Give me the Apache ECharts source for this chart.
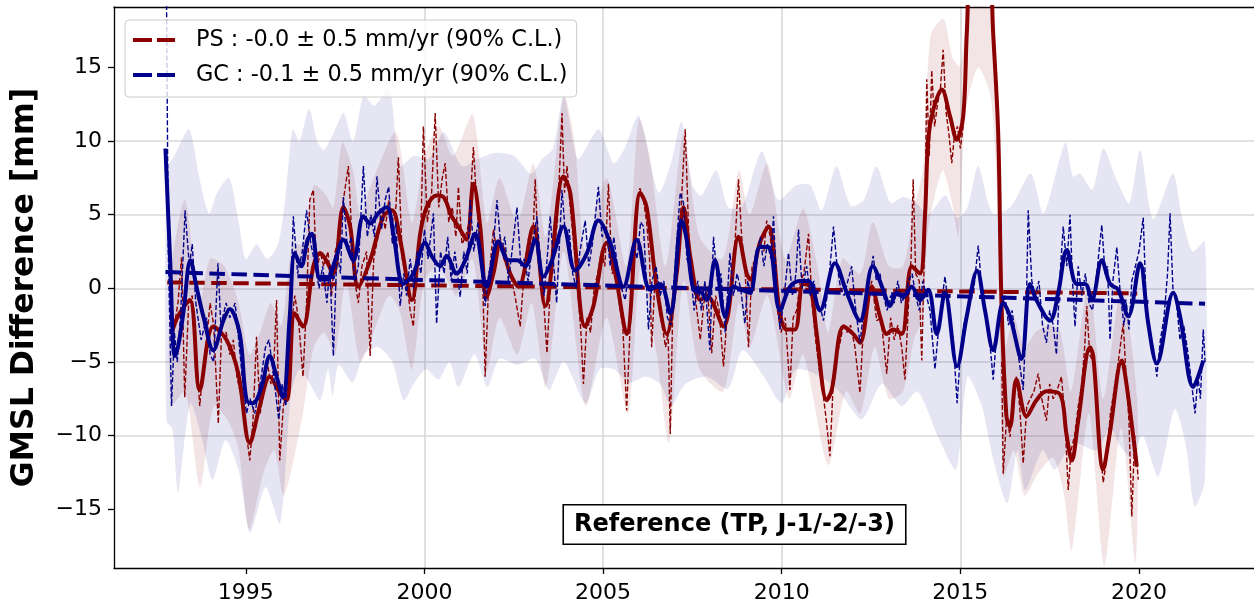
<!DOCTYPE html>
<html>
<head>
<meta charset="utf-8">
<script src="https://cdn.jsdelivr.net/npm/echarts@6/dist/echarts.min.js"></script>
<style>
html,body{margin:0;padding:0;background:#fff;}
#chart{width:1254px;height:610px;}
</style>
</head>
<body>
<div id="chart"></div>
<script>
// ---------- DATA ----------
const psLabel = 'PS : -0.0 ± 0.5 mm/yr (90% C.L.)';
const gcLabel = 'GC : -0.1 ± 0.5 mm/yr (90% C.L.)';
const yTitle = 'GMSL Difference [mm]';
const boxText = 'Reference (TP, J-1/-2/-3)';
const xTickValues = [1995, 2000, 2005, 2010, 2015, 2020];
const yTickValues = [-15, -10, -5, 0, 5, 10, 15];

const psTrend = [[1992.8, 0.4], [2019.95, -0.35]];
const gcTrend = [[1992.75, 1.1], [2021.85, -1.05]];

const gcSmooth = [[1992.75,9.5],[1992.88,2.0],[1993.01,-4.6],[1993.1,-4.0],[1993.25,-1.7],[1993.45,1.9],[1993.62,0.1],[1993.81,-1.9],[1994.09,-4.2],[1994.37,-2.2],[1994.55,-1.4],[1994.83,-3.1],[1995.02,-7.6],[1995.2,-7.8],[1995.44,-6.7],[1995.67,-4.6],[1995.86,-6.0],[1996.04,-7.4],[1996.23,-1.9],[1996.37,2.4],[1996.55,1.5],[1996.73,3.3],[1996.85,3.7],[1997.08,0.6],[1997.27,0.6],[1997.5,1.9],[1997.73,3.3],[1998.01,1.9],[1998.29,4.9],[1998.48,4.4],[1998.71,5.1],[1998.95,5.5],[1999.13,3.7],[1999.41,0.3],[1999.69,1.0],[2000.02,3.1],[2000.2,2.2],[2000.44,1.5],[2000.62,2.2],[2000.9,1.0],[2001.14,1.9],[2001.42,3.7],[2001.74,0.1],[2002.07,3.2],[2002.35,1.9],[2002.59,1.9],[2002.82,1.5],[2003.1,3.3],[2003.33,0.8],[2003.57,1.9],[2003.89,4.2],[2004.22,1.2],[2004.55,2.4],[2004.87,4.6],[2005.2,3.1],[2005.57,0.1],[2005.94,3.3],[2006.32,-0.1],[2006.6,0.3],[2006.88,-1.7],[2007.2,4.6],[2007.34,3.3],[2007.53,-0.1],[2007.76,-0.3],[2007.9,-0.8],[2008.13,1.9],[2008.42,-1.9],[2008.65,0.1],[2008.88,-0.1],[2009.11,-0.3],[2009.39,2.8],[2009.63,2.8],[2009.95,-1.5],[2010.23,0.1],[2010.51,0.5],[2010.75,0.5],[2011.07,-1.5],[2011.49,1.7],[2011.82,-0.3],[2012.19,-2.2],[2012.55,1.5],[2012.84,-0.1],[2013.03,-1.2],[2013.22,-0.3],[2013.4,-0.6],[2013.64,0.1],[2013.87,-0.8],[2014.1,-0.1],[2014.34,-3.1],[2014.57,-0.3],[2014.91,-5.3],[2015.18,-1.9],[2015.47,1.2],[2015.69,-1.5],[2015.92,-4.2],[2016.2,-1.0],[2016.39,-1.9],[2016.71,-4.8],[2016.95,0.3],[2017.13,-0.8],[2017.51,-2.2],[2017.74,-0.3],[2017.98,2.6],[2018.26,0.3],[2018.49,0.3],[2018.68,-0.8],[2018.96,1.9],[2019.19,0.3],[2019.42,-0.1],[2019.7,-1.9],[2020.03,1.7],[2020.26,-2.4],[2020.5,-5.1],[2020.96,-0.3],[2021.15,-1.9],[2021.52,-6.7],[2021.8,-4.9]];

const psSmooth = [[1992.92,-3.1],[1993.1,-1.9],[1993.43,-0.8],[1993.71,-6.9],[1994.09,-2.6],[1994.46,-3.5],[1994.79,-5.8],[1995.11,-10.5],[1995.39,-8.0],[1995.67,-6.0],[1995.95,-7.1],[1996.14,-7.6],[1996.37,-1.7],[1996.6,-2.6],[1996.89,1.5],[1997.08,2.4],[1997.27,1.8],[1997.45,1.0],[1997.73,5.5],[1997.92,4.2],[1998.15,0.1],[1998.48,1.9],[1998.85,4.9],[1999.09,5.3],[1999.32,3.3],[1999.65,-0.8],[1999.88,3.7],[2000.06,5.5],[2000.34,6.3],[2000.53,6.2],[2000.76,4.9],[2000.95,4.2],[2001.18,3.3],[2001.37,7.1],[2001.56,4.2],[2001.74,-0.6],[2001.93,1.0],[2002.12,3.0],[2002.4,1.0],[2002.63,0.1],[2003.05,4.2],[2003.38,-1.2],[2003.89,7.6],[2004.08,6.5],[2004.5,-2.6],[2004.73,-1.2],[2005.1,3.1],[2005.34,1.0],[2005.66,-3.1],[2006.04,6.5],[2006.22,5.5],[2006.5,0.1],[2006.78,-3.1],[2007.06,1.0],[2007.25,5.5],[2007.45,2.0],[2007.72,-0.8],[2007.9,-0.5],[2008.37,-2.6],[2008.79,3.5],[2009.02,1.0],[2009.12,0.6],[2009.39,3.1],[2009.63,4.2],[2009.95,-1.7],[2010.14,-2.8],[2010.37,-2.8],[2010.6,0.3],[2010.8,0.1],[2010.98,-3.1],[2011.26,-7.6],[2011.4,-6.9],[2011.73,-2.6],[2012.0,-3.1],[2012.19,-3.7],[2012.52,0.1],[2012.75,-1.9],[2012.94,-3.1],[2013.12,-2.8],[2013.36,-3.1],[2013.64,1.5],[2013.87,1.0],[2014.01,4.9],[2014.1,10.1],[2014.24,12.1],[2014.48,13.5],[2014.71,11.7],[2014.9,10.1],[2015.08,11.7],[2015.18,17.3],[2015.3,22.5],[2015.55,24.0],[2015.8,22.5],[2015.92,17.3],[2016.06,10.5],[2016.15,-0.8],[2016.29,-8.7],[2016.39,-9.4],[2016.57,-6.2],[2016.85,-8.7],[2017.13,-7.6],[2017.41,-7.0],[2017.79,-7.2],[2017.97,-9.9],[2018.12,-11.7],[2018.3,-9.0],[2018.63,-4.0],[2018.72,-4.6],[2019.0,-12.3],[2019.18,-9.9],[2019.52,-4.9],[2019.65,-6.5],[2019.94,-12.1]];

const gcRaw = [[1992.75,30],[1992.83,2.5],[1992.92,-8.0],[1993.0,-3.0],[1993.08,-5.0],[1993.17,-2.0],[1993.3,5.3],[1993.42,1.5],[1993.5,3.0],[1993.6,-1.0],[1993.75,-3.5],[1993.9,-2.0],[1994.0,-4.5],[1994.1,-5.0],[1994.22,1.7],[1994.3,-2.5],[1994.45,-1.0],[1994.55,-2.0],[1994.7,-1.0],[1994.8,-3.5],[1994.92,-6.5],[1995.02,-8.5],[1995.12,-7.5],[1995.25,-8.5],[1995.4,-6.5],[1995.55,-4.0],[1995.65,-3.5],[1995.78,-6.0],[1995.92,-8.9],[1996.02,-6.5],[1996.12,-8.0],[1996.25,-1.0],[1996.33,4.9],[1996.45,1.0],[1996.58,2.5],[1996.7,5.3],[1996.82,3.0],[1996.95,1.5],[1997.05,0.0],[1997.15,1.5],[1997.27,-1.0],[1997.35,1.5],[1997.45,-4.6],[1997.55,2.5],[1997.65,1.0],[1997.73,6.2],[1997.85,2.5],[1997.95,3.5],[1998.05,0.5],[1998.15,1.5],[1998.29,8.3],[1998.4,3.5],[1998.5,5.0],[1998.6,3.5],[1998.67,7.6],[1998.8,4.0],[1998.9,6.0],[1999.0,6.9],[1999.1,3.0],[1999.2,4.5],[1999.32,-1.2],[1999.42,1.0],[1999.5,-0.5],[1999.6,2.0],[1999.7,0.0],[1999.8,2.5],[1999.9,1.0],[2000.0,4.0],[2000.1,2.0],[2000.25,5.1],[2000.34,-2.4],[2000.45,2.5],[2000.55,1.0],[2000.65,3.5],[2000.75,0.5],[2000.85,2.5],[2001.0,-0.6],[2001.1,2.5],[2001.2,1.0],[2001.28,6.0],[2001.38,2.5],[2001.5,4.5],[2001.6,1.5],[2001.7,-1.2],[2001.8,1.0],[2001.9,2.0],[2002.03,6.0],[2002.15,2.5],[2002.25,3.5],[2002.35,0.5],[2002.45,2.5],[2002.59,5.5],[2002.7,1.5],[2002.8,2.0],[2002.9,0.5],[2003.0,2.5],[2003.15,4.9],[2003.25,1.5],[2003.35,-0.5],[2003.45,2.5],[2003.52,4.9],[2003.62,1.5],[2003.7,-1.0],[2003.85,6.7],[2003.95,3.5],[2004.05,4.0],[2004.15,1.0],[2004.25,0.0],[2004.35,2.5],[2004.5,4.6],[2004.6,1.5],[2004.7,3.0],[2004.87,6.9],[2004.97,3.5],[2005.1,4.0],[2005.2,1.5],[2005.3,3.5],[2005.45,0.5],[2005.62,-0.8],[2005.72,1.5],[2005.85,3.0],[2005.95,2.0],[2006.05,4.5],[2006.13,4.2],[2006.2,1.0],[2006.27,-2.8],[2006.37,0.5],[2006.48,1.5],[2006.6,-0.5],[2006.7,0.5],[2006.8,-2.0],[2006.9,-2.5],[2007.0,1.0],[2007.1,4.5],[2007.16,6.5],[2007.25,5.8],[2007.35,2.0],[2007.45,1.0],[2007.55,-1.5],[2007.65,0.5],[2007.75,-1.5],[2007.85,0.5],[2007.99,-4.2],[2008.09,3.5],[2008.2,0.5],[2008.3,1.0],[2008.42,-3.0],[2008.55,2.4],[2008.65,-0.5],[2008.75,1.0],[2008.85,0.0],[2008.97,-2.4],[2009.05,0.5],[2009.15,-0.5],[2009.3,2.0],[2009.4,3.5],[2009.5,1.5],[2009.6,3.0],[2009.7,2.0],[2009.77,4.9],[2009.85,0.5],[2009.95,-2.8],[2010.05,-1.0],[2010.19,2.4],[2010.3,-0.5],[2010.4,1.0],[2010.47,4.0],[2010.57,0.0],[2010.7,1.5],[2010.8,-0.5],[2010.9,0.5],[2011.0,-1.0],[2011.1,-1.5],[2011.17,-2.2],[2011.3,0.0],[2011.45,4.2],[2011.55,1.5],[2011.65,0.0],[2011.75,-0.5],[2011.85,0.5],[2011.96,1.5],[2012.05,-1.0],[2012.19,-3.7],[2012.3,-1.5],[2012.45,0.5],[2012.56,2.2],[2012.65,0.5],[2012.75,1.0],[2012.85,-0.5],[2012.95,-1.5],[2013.05,-0.5],[2013.15,-1.0],[2013.25,0.5],[2013.35,-1.0],[2013.45,-0.5],[2013.55,0.5],[2013.65,1.0],[2013.75,-0.5],[2013.85,-1.5],[2013.95,0.5],[2014.05,-0.5],[2014.15,-1.5],[2014.29,-5.5],[2014.4,-2.5],[2014.5,-0.5],[2014.57,0.8],[2014.68,-1.5],[2014.8,-3.5],[2014.91,-7.8],[2015.0,-4.5],[2015.1,-2.5],[2015.25,-1.0],[2015.38,0.0],[2015.5,2.9],[2015.6,0.0],[2015.72,-2.0],[2015.82,-3.5],[2015.92,-6.2],[2016.02,-3.0],[2016.12,-1.5],[2016.25,-0.5],[2016.35,-2.5],[2016.45,-1.5],[2016.55,-3.5],[2016.65,-5.0],[2016.76,-6.9],[2016.84,-2.0],[2016.9,5.3],[2017.0,0.5],[2017.1,-0.5],[2017.2,0.5],[2017.3,-2.5],[2017.41,-3.7],[2017.5,-1.5],[2017.6,-2.5],[2017.69,-4.5],[2017.78,0.5],[2017.88,4.2],[2017.98,1.5],[2018.07,5.0],[2018.14,0.5],[2018.21,-2.6],[2018.3,1.5],[2018.4,-0.5],[2018.5,1.0],[2018.6,-1.0],[2018.7,-1.5],[2018.8,0.5],[2018.88,2.5],[2018.96,4.3],[2019.05,1.0],[2019.12,1.5],[2019.19,-3.5],[2019.27,0.5],[2019.38,2.8],[2019.48,-0.5],[2019.58,-2.5],[2019.65,-1.0],[2019.72,-2.8],[2019.8,0.5],[2019.9,1.5],[2020.0,2.5],[2020.12,4.8],[2020.2,-1.0],[2020.3,-3.0],[2020.4,-4.0],[2020.5,-6.0],[2020.6,-3.5],[2020.7,-2.0],[2020.8,1.0],[2020.87,5.1],[2020.95,0.0],[2021.05,-1.0],[2021.15,-3.5],[2021.25,-2.5],[2021.35,-4.0],[2021.45,-6.0],[2021.57,-8.5],[2021.65,-6.0],[2021.72,-7.5],[2021.8,-2.8],[2021.85,-5.0]];

const psRaw = [[1992.92,-3.0],[1993.0,-2.5],[1993.1,-1.0],[1993.2,2.1],[1993.29,-7.4],[1993.4,-1.0],[1993.5,-0.5],[1993.6,-4.0],[1993.71,-8.0],[1993.8,-5.5],[1993.9,-3.5],[1994.0,-1.0],[1994.1,-2.5],[1994.23,-9.2],[1994.32,-3.0],[1994.45,-3.0],[1994.55,-4.5],[1994.65,-3.5],[1994.75,-6.0],[1994.88,-7.5],[1995.0,-9.5],[1995.11,-11.7],[1995.2,-9.0],[1995.3,-3.3],[1995.4,-8.5],[1995.5,-7.0],[1995.6,-5.0],[1995.7,-6.5],[1995.78,-5.5],[1995.86,-0.8],[1995.95,-11.7],[1996.05,-8.0],[1996.15,-7.0],[1996.25,-3.0],[1996.37,-0.5],[1996.47,-2.0],[1996.6,-6.0],[1996.7,-1.0],[1996.79,6.0],[1996.89,6.7],[1996.98,1.0],[1997.08,2.5],[1997.18,1.5],[1997.3,2.5],[1997.4,-0.5],[1997.5,2.5],[1997.62,3.5],[1997.73,6.0],[1997.87,8.3],[1997.97,3.5],[1998.05,0.5],[1998.15,-1.0],[1998.25,1.5],[1998.38,2.5],[1998.48,-4.6],[1998.58,2.0],[1998.7,3.5],[1998.8,5.5],[1998.9,4.0],[1999.0,6.0],[1999.1,4.5],[1999.2,5.5],[1999.27,8.9],[1999.38,2.0],[1999.5,0.5],[1999.6,-1.5],[1999.69,-2.6],[1999.8,2.0],[1999.9,4.0],[1999.97,11.0],[2000.08,4.5],[2000.2,6.5],[2000.3,11.9],[2000.4,5.5],[2000.5,7.5],[2000.58,8.5],[2000.68,4.5],[2000.78,5.5],[2000.88,3.5],[2000.95,6.9],[2001.05,3.0],[2001.15,3.5],[2001.25,4.5],[2001.37,9.6],[2001.47,5.5],[2001.56,3.0],[2001.63,0.5],[2001.7,-6.0],[2001.8,0.5],[2001.93,4.0],[2002.03,2.5],[2002.12,3.5],[2002.22,2.0],[2002.32,1.5],[2002.45,0.5],[2002.54,-0.6],[2002.68,-2.6],[2002.8,1.5],[2002.92,3.5],[2003.02,2.5],[2003.1,7.4],[2003.2,1.5],[2003.3,0.5],[2003.43,-4.4],[2003.52,0.0],[2003.62,2.5],[2003.72,4.5],[2003.85,11.9],[2003.92,6.5],[2003.99,8.3],[2004.08,5.5],[2004.18,3.0],[2004.3,-0.5],[2004.38,-3.0],[2004.45,-6.5],[2004.55,-2.0],[2004.65,-3.0],[2004.75,0.0],[2004.85,1.0],[2004.95,2.5],[2005.05,1.5],[2005.15,7.1],[2005.25,1.0],[2005.35,1.5],[2005.45,-1.0],[2005.55,-2.5],[2005.66,-8.3],[2005.75,-3.0],[2005.85,1.0],[2005.95,5.5],[2006.03,6.8],[2006.13,6.0],[2006.22,4.5],[2006.3,2.0],[2006.36,-4.0],[2006.45,0.5],[2006.55,-1.0],[2006.65,-2.5],[2006.75,-4.0],[2006.82,-3.0],[2006.88,-9.9],[2006.95,-1.5],[2007.05,1.5],[2007.15,4.0],[2007.3,10.8],[2007.4,3.5],[2007.5,1.0],[2007.6,-1.0],[2007.72,-3.5],[2007.82,-1.0],[2007.92,0.0],[2008.04,-4.4],[2008.15,-0.5],[2008.25,-1.5],[2008.37,-5.3],[2008.47,-2.0],[2008.58,0.5],[2008.68,2.5],[2008.79,7.4],[2008.88,3.5],[2008.98,1.0],[2009.07,-4.0],[2009.17,1.5],[2009.27,2.0],[2009.4,3.0],[2009.5,2.5],[2009.58,4.6],[2009.68,3.5],[2009.78,0.5],[2009.88,-1.5],[2009.98,-3.0],[2010.1,-2.0],[2010.23,-6.9],[2010.32,-2.0],[2010.42,-1.5],[2010.52,0.5],[2010.62,1.0],[2010.75,3.7],[2010.85,-1.0],[2010.95,-3.5],[2011.05,-5.5],[2011.15,-7.0],[2011.25,-9.0],[2011.35,-11.4],[2011.45,-6.0],[2011.55,-4.5],[2011.65,-3.5],[2011.73,-2.4],[2011.83,-3.0],[2011.93,-2.5],[2012.05,-4.0],[2012.19,-7.1],[2012.3,-2.0],[2012.42,-0.5],[2012.52,0.5],[2012.66,-2.2],[2012.78,-2.0],[2012.94,-5.8],[2013.05,-2.0],[2013.15,-3.5],[2013.25,-2.5],[2013.36,-4.0],[2013.45,-6.2],[2013.55,-1.0],[2013.62,2.0],[2013.68,7.4],[2013.75,1.0],[2013.85,0.5],[2013.92,-4.9],[2014.0,3.0],[2014.06,14.2],[2014.13,9.0],[2014.2,14.8],[2014.28,11.0],[2014.36,12.5],[2014.44,13.5],[2014.52,16.2],[2014.6,12.0],[2014.68,10.5],[2014.76,8.5],[2014.84,10.5],[2014.92,11.0],[2015.0,9.5],[2015.08,11.0],[2015.6,null],[2016.16,-5.0],[2016.2,-12.6],[2016.3,-8.5],[2016.39,-10.1],[2016.48,-7.0],[2016.57,-6.0],[2016.66,-8.0],[2016.76,-11.9],[2016.86,-8.0],[2016.96,-7.5],[2017.06,-7.0],[2017.18,-5.8],[2017.28,-7.5],[2017.41,-9.0],[2017.5,-6.5],[2017.6,-7.5],[2017.7,-7.0],[2017.83,-6.0],[2017.92,-8.5],[2018.02,-13.7],[2018.1,-11.0],[2018.2,-10.0],[2018.3,-8.0],[2018.4,-6.5],[2018.48,-4.0],[2018.54,-1.2],[2018.62,-4.5],[2018.72,-5.0],[2018.82,-8.0],[2018.92,-11.0],[2019.0,-13.2],[2019.1,-11.5],[2019.2,-8.5],[2019.3,-7.0],[2019.42,-5.0],[2019.56,-2.4],[2019.64,-6.0],[2019.72,-9.0],[2019.8,-15.5],[2019.88,-10.0],[2019.94,-11.7],[2019.98,-13.0]];

const gcUpper = [[1992.78,8.0],[1993.0,9.0],[1993.41,10.8],[1993.7,7.5],[1993.97,5.1],[1994.2,6.5],[1994.53,7.5],[1994.8,4.5],[1995.0,2.0],[1995.3,3.0],[1995.6,2.0],[1995.9,3.0],[1996.1,6.0],[1996.31,10.8],[1996.5,10.0],[1996.77,12.2],[1997.0,10.0],[1997.18,9.4],[1997.45,10.5],[1997.74,11.9],[1998.0,10.0],[1998.3,13.1],[1998.6,12.4],[1999.01,13.6],[1999.32,8.3],[1999.7,9.0],[2000.13,8.8],[2000.54,10.6],[2001.05,8.3],[2001.5,8.8],[2001.97,9.2],[2002.5,9.0],[2002.98,7.8],[2003.3,8.8],[2003.6,9.5],[2003.9,13.1],[2004.3,8.8],[2004.87,10.8],[2005.3,8.5],[2005.6,9.5],[2006.0,11.7],[2006.55,6.5],[2006.9,8.5],[2007.2,11.3],[2007.5,7.0],[2007.75,6.3],[2008.17,8.0],[2008.5,5.5],[2008.9,5.6],[2009.44,9.3],[2009.9,6.0],[2010.41,7.0],[2010.8,7.0],[2011.12,5.3],[2011.53,8.3],[2011.93,5.6],[2012.3,6.0],[2012.65,8.3],[2013.05,5.8],[2013.4,6.2],[2013.77,5.8],[2014.1,5.0],[2014.58,6.3],[2014.9,4.8],[2015.2,5.5],[2015.5,8.3],[2015.9,5.1],[2016.4,5.5],[2016.97,7.8],[2017.33,5.1],[2017.94,9.9],[2018.15,7.6],[2018.35,7.8],[2018.7,6.7],[2019.0,9.5],[2019.37,7.4],[2019.73,5.8],[2020.03,9.4],[2020.4,4.7],[2020.95,7.8],[2021.2,4.9],[2021.5,2.5],[2021.85,3.2]];

const gcLower = [[1992.78,-9.0],[1992.95,-9.6],[1993.1,-13.9],[1993.3,-10.0],[1993.46,-7.8],[1993.75,-10.0],[1994.07,-13.0],[1994.43,-10.3],[1994.79,-12.3],[1995.12,-16.6],[1995.55,-13.5],[1995.96,-16.0],[1996.26,-7.3],[1996.5,-5.5],[1996.8,-6.5],[1997.08,-7.6],[1997.3,-5.5],[1997.43,-7.3],[1997.6,-5.2],[1997.99,-6.4],[1998.3,-4.5],[1998.7,-4.0],[1999.1,-5.0],[1999.42,-7.6],[1999.72,-6.4],[2000.05,-5.5],[2000.39,-6.2],[2000.7,-5.0],[2000.95,-6.7],[2001.4,-4.5],[2001.76,-6.7],[2002.1,-4.8],[2002.6,-5.2],[2003.1,-4.8],[2003.49,-6.9],[2003.9,-5.0],[2004.51,-7.8],[2004.9,-5.5],[2005.3,-5.5],[2005.73,-6.4],[2006.2,-6.0],[2006.6,-6.5],[2006.9,-8.0],[2007.3,-6.5],[2007.9,-6.0],[2008.5,-6.8],[2008.9,-4.2],[2009.5,-6.0],[2010.0,-7.8],[2010.4,-5.5],[2011.1,-6.0],[2011.6,-7.0],[2012.24,-8.9],[2012.8,-6.5],[2013.36,-8.0],[2013.8,-7.0],[2014.38,-10.1],[2014.88,-12.3],[2015.2,-6.0],[2015.6,-8.0],[2015.9,-11.4],[2016.31,-14.6],[2016.6,-11.0],[2016.82,-13.7],[2017.3,-11.0],[2017.64,-12.3],[2018.15,-10.5],[2018.8,-11.0],[2019.2,-9.5],[2019.47,-10.7],[2019.8,-11.5],[2020.1,-10.0],[2020.54,-12.8],[2021.0,-8.2],[2021.3,-10.5],[2021.56,-14.8],[2021.85,-13.0]];

const psUpper = [[1992.9,1.0],[1993.3,6.0],[1993.7,-1.0],[1994.0,2.0],[1994.4,1.5],[1994.8,-1.0],[1995.1,-4.5],[1995.4,-3.0],[1995.7,-1.0],[1996.0,-2.5],[1996.3,3.0],[1996.6,3.0],[1996.9,7.0],[1997.2,6.5],[1997.45,5.5],[1997.7,9.9],[1998.0,8.0],[1998.2,5.0],[1998.5,7.0],[1999.2,10.6],[1999.65,4.5],[2000.0,9.0],[2000.4,11.0],[2000.8,9.0],[2001.35,11.8],[2001.75,4.5],[2002.1,7.5],[2002.6,4.5],[2003.05,8.5],[2003.4,3.5],[2003.9,13.1],[2004.2,10.0],[2004.5,2.5],[2005.1,7.5],[2005.65,1.5],[2006.0,11.5],[2006.3,9.0],[2006.75,1.5],[2007.25,10.5],[2007.7,3.5],[2008.35,2.0],[2008.8,8.0],[2009.1,5.0],[2009.6,8.5],[2010.1,2.0],[2010.6,5.4],[2011.0,1.5],[2011.3,-3.0],[2011.7,2.0],[2012.2,1.0],[2012.55,4.5],[2013.0,1.5],[2013.4,1.5],[2013.7,5.5],[2013.95,8.0],[2014.17,17.2],[2014.53,18.3],[2014.79,15.6],[2015.0,15.1],[2015.18,19.5],[2015.3,25.0],[2015.55,27.0],[2015.8,25.0],[2015.95,15.0],[2016.1,6.0],[2016.25,-4.0],[2016.5,-2.0],[2016.8,-4.0],[2017.1,-3.0],[2017.5,-2.5],[2017.8,-3.0],[2018.1,-7.0],[2018.6,0.5],[2019.0,-7.5],[2019.5,0.0],[2019.95,-7.5]];

const psLower = [[1992.9,-8.0],[1993.3,-7.0],[1993.72,-13.5],[1994.1,-8.0],[1994.5,-9.0],[1994.8,-11.0],[1995.09,-16.4],[1995.5,-12.5],[1995.8,-11.0],[1996.06,-14.1],[1996.57,-8.9],[1996.9,-4.0],[1997.2,-3.0],[1997.5,-4.5],[1997.8,0.5],[1998.2,-5.0],[1998.5,-3.5],[1999.0,-0.5],[1999.3,-1.5],[1999.65,-5.5],[2000.0,0.5],[2000.4,1.5],[2000.9,-0.5],[2001.35,2.0],[2001.75,-5.5],[2002.1,-2.0],[2002.6,-4.5],[2003.0,-1.0],[2003.4,-6.7],[2003.9,2.5],[2004.51,-8.0],[2005.1,-2.0],[2005.7,-8.5],[2006.05,1.5],[2006.5,-4.5],[2006.85,-10.5],[2007.25,0.5],[2007.7,-5.5],[2008.37,-7.0],[2008.8,-1.0],[2009.1,-4.0],[2009.6,-0.5],[2010.2,-7.5],[2010.6,-4.5],[2011.3,-12.0],[2011.8,-7.0],[2012.2,-8.5],[2012.6,-4.0],[2013.0,-7.5],[2013.4,-7.0],[2013.7,-3.5],[2013.95,-2.0],[2014.1,4.0],[2014.5,8.0],[2014.75,6.0],[2014.95,3.5],[2015.15,12.0],[2015.5,15.0],[2015.85,13.0],[2016.05,5.0],[2016.2,-12.8],[2016.5,-11.0],[2016.8,-14.1],[2017.2,-12.5],[2017.6,-11.5],[2017.9,-14.0],[2018.12,-17.8],[2018.6,-8.5],[2019.03,-18.9],[2019.5,-9.5],[2019.9,-18.7]];

// ---------- CHART ----------
const FONT = 'DejaVu Sans';
const RED = '#8b0000';
const BLUE = '#00008b';
const DASH_ICON = 'path://M0,0H19V4H0ZM24,0H42V4H24Z';
const chart = echarts.init(document.getElementById('chart'), null, {renderer: 'canvas'});

function bandSeries(upper, lower, fill) {
  return {
    type: 'custom',
    clip: true,
    silent: true,
    data: [[upper[0][0], upper[0][1]]],
    encode: {x: 0, y: 1},
    renderItem: function (params, api) {
      const pts = upper.map(p => api.coord(p)).concat(lower.slice().reverse().map(p => api.coord(p)));
      const cs = params.coordSys;
      return {
        type: 'polygon',
        shape: {points: pts, smooth: 0.25},
        style: {fill: fill, stroke: null},
        clipPath: {type: 'rect', shape: {x: cs.x, y: cs.y, width: cs.width, height: cs.height}}
      };
    }
  };
}

function lineSeries(name, data, color, width, dash, smooth) {
  return {
    name: name,
    type: 'line',
    data: data,
    symbol: 'none',
    showSymbol: false,
    smooth: smooth,
    connectNulls: false,
    clip: true,
    silent: true,
    lineStyle: {color: color, width: width, type: dash || 'solid', cap: 'butt'},
    itemStyle: {color: color}
  };
}

const option = {
  animation: false,
  backgroundColor: '#ffffff',
  grid: {left: 114, top: 7, right: 0, bottom: 42, containLabel: false},
  xAxis: [{
    type: 'value', min: 1991.31, max: 2023.22, splitNumber: 6, minInterval: 5, maxInterval: 5,
    axisLine: {show: true, onZero: false, lineStyle: {color: '#000', width: 1.3}},
    axisTick: {show: true, length: 6, customValues: xTickValues, lineStyle: {color: '#000', width: 1.3}},
    axisLabel: {show: true, customValues: xTickValues, margin: 14, fontFamily: FONT, fontSize: 22, color: '#000', formatter: v => String(v)},
    splitLine: {show: true, showMinLine: false, showMaxLine: false, lineStyle: {color: '#d9d9d9', width: 1.6}}
  }, {
    type: 'value', position: 'top', min: 1991.31, max: 2023.22,
    axisLine: {show: true, onZero: false, lineStyle: {color: '#000', width: 1.3}},
    axisTick: {show: false}, axisLabel: {show: false}, splitLine: {show: false}
  }],
  yAxis: {
    type: 'value', min: -19.0, max: 19.11, splitNumber: 8, minInterval: 5, maxInterval: 5,
    name: yTitle, nameLocation: 'middle', nameGap: 73,
    nameTextStyle: {fontFamily: FONT, fontWeight: 'bold', fontSize: 31.5, color: '#000'},
    axisLine: {show: true, onZero: false, lineStyle: {color: '#000', width: 1.3}},
    axisTick: {show: true, length: 6, customValues: yTickValues, lineStyle: {color: '#000', width: 1.3}},
    axisLabel: {show: true, customValues: yTickValues, margin: 12, fontFamily: FONT, fontSize: 22, color: '#000',
      formatter: v => (v < 0 ? '\u2212' + Math.abs(v) : String(v))},
    splitLine: {show: true, showMinLine: false, showMaxLine: false, lineStyle: {color: '#d9d9d9', width: 1.6}}
  },
  legend: {
    data: [
      {name: psLabel, icon: DASH_ICON, itemStyle: {color: RED}},
      {name: gcLabel, icon: DASH_ICON, itemStyle: {color: BLUE}}
    ],
    orient: 'vertical', left: 125, top: 20,
    padding: [7, 9, 9, 8],
    itemWidth: 42, itemHeight: 4, itemGap: 9,
    backgroundColor: 'rgba(255,255,255,0.8)', borderColor: '#cccccc', borderWidth: 1, borderRadius: 4,
    textStyle: {fontFamily: FONT, fontSize: 22.4, color: '#000', lineHeight: 26, padding: [0, 0, 0, 16]},
    selectedMode: false
  },
  graphic: [{
    type: 'text', x: 734.5, y: 524.5, z: 100,
    style: {
      text: boxText, font: 'bold 24px "DejaVu Sans"', fill: '#000', align: 'center', verticalAlign: 'middle',
      backgroundColor: '#fff', borderColor: '#000', borderWidth: 1.6, padding: [8, 10, 6, 10]
    }
  }],
  series: [
    bandSeries(psUpper, psLower, 'rgba(139,0,0,0.1)'),
    lineSeries('psRaw', psRaw, RED, 1.4, [5, 2.2], false),
    lineSeries('psSmooth', psSmooth, RED, 4, 'solid', 0.35),
    lineSeries(psLabel, psTrend, RED, 4, [15.5, 6.5], false),
    bandSeries(gcUpper, gcLower, 'rgba(0,0,139,0.1)'),
    lineSeries('gcRaw', gcRaw, BLUE, 1.4, [5, 2.2], false),
    lineSeries('gcSmooth', gcSmooth, BLUE, 4, 'solid', 0.35),
    lineSeries(gcLabel, gcTrend, BLUE, 4, [15.5, 6.5], false)
  ]
};
chart.setOption(option);
</script>
</body>
</html>
